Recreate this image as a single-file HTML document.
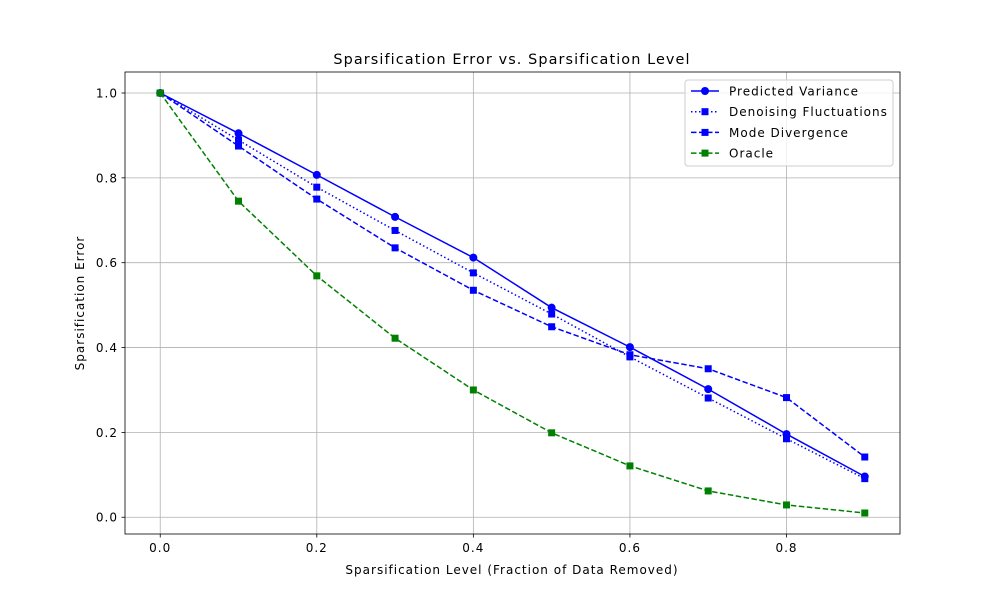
<!DOCTYPE html>
<html><head><meta charset="utf-8"><style>
body{margin:0;background:#fff;font-family:"Liberation Sans","DejaVu Sans",sans-serif}
svg text{font-family:"DejaVu Sans","Liberation Sans",sans-serif;letter-spacing:1px}
</style></head><body>
<svg id="chart" width="1000" height="600">
<rect width="1000" height="600" fill="#fff"/>
<text x="512" y="64" font-size="14.4" text-anchor="middle" style="letter-spacing:1.1px">Sparsification Error vs. Sparsification Level</text>
<g id="grid"></g><g id="series"></g><g id="axes"></g>
<text x="512" y="574" font-size="12" text-anchor="middle">Sparsification Level (Fraction of Data Removed)</text>
<text x="0" y="0" font-size="12" text-anchor="middle" transform="translate(84,303) rotate(-90)">Sparsification Error</text>
<g id="legend"></g>
</svg>
<script>
const xLevels=[0,0.1,0.2,0.3,0.4,0.5,0.6,0.7,0.8,0.9];
const predicted=[1.0,0.905,0.807,0.708,0.612,0.494,0.401,0.302,0.196,0.096];
const denoising=[1.0,0.889,0.778,0.676,0.576,0.479,0.378,0.281,0.185,0.091];
const mode=[1.0,0.875,0.750,0.635,0.535,0.449,0.383,0.350,0.282,0.142];
const oracle=[1.0,0.745,0.569,0.422,0.300,0.199,0.121,0.062,0.029,0.010];
const xTicks=[0,0.2,0.4,0.6,0.8];
const yTicks=[0,0.2,0.4,0.6,0.8,1.0];
const L=125,R=900,T=72,B=534,xmin=-0.045,xmax=0.945,ymin=-0.0395,ymax=1.0495;
const sx=v=>L+(v-xmin)/(xmax-xmin)*(R-L);
const sy=v=>B-(v-ymin)/(ymax-ymin)*(B-T);
const NS="http://www.w3.org/2000/svg";
function mk(tag,attrs,parent){const e=document.createElementNS(NS,tag);for(const k in attrs)e.setAttribute(k,attrs[k]);parent.appendChild(e);return e;}
const grid=document.getElementById('grid'),axes=document.getElementById('axes'),ser=document.getElementById('series'),leg=document.getElementById('legend');
xTicks.forEach(t=>{const x=sx(t);
 let g=mk('line',{x1:x,x2:x,y1:T,y2:B,stroke:'#b0b0b0','stroke-width':0.8},grid);
 
 mk('line',{x1:x,x2:x,y1:B,y2:B+3.5,stroke:'#000','stroke-width':0.8},axes);
 let tx=mk('text',{x:x,y:B+18,'font-size':12,'text-anchor':'middle'},axes);tx.textContent=t.toFixed(1);
 });
yTicks.forEach(t=>{const y=sy(t);
 let g=mk('line',{x1:L,x2:R,y1:y,y2:y,stroke:'#b0b0b0','stroke-width':0.8},grid);
 
 mk('line',{x1:L-3.5,x2:L,y1:y,y2:y,stroke:'#000','stroke-width':0.8},axes);
 let tx=mk('text',{x:L-7,y:y+4.5,'font-size':12,'text-anchor':'end'},axes);tx.textContent=t.toFixed(1);
 });
let fr=mk('rect',{x:L,y:T,width:R-L,height:B-T,fill:'none',stroke:'#000','stroke-width':0.8},axes);

const series=[
 {name:'Predicted Variance',vals:predicted,color:'blue',dash:'',marker:'circle',id:'predicted-variance'},
 {name:'Denoising Fluctuations',vals:denoising,color:'blue',dash:'1.5,2.5',marker:'square',id:'denoising-fluctuations'},
 {name:'Mode Divergence',vals:mode,color:'blue',dash:'5.5,2.5',marker:'square',id:'mode-divergence'},
 {name:'Oracle',vals:oracle,color:'green',dash:'5.5,2.5',marker:'square',id:'oracle'}];
function marker(s,x,y,p){if(s.marker==='circle')return mk('circle',{cx:x,cy:y,r:4,fill:s.color},p);return mk('rect',{x:x-3.5,y:y-3.5,width:7,height:7,fill:s.color},p);}
series.forEach(s=>{const g=mk('g',{},ser);
 
 const pts=s.vals.map((v,i)=>sx(xLevels[i])+','+sy(v)).join(' ');
 const pl=mk('polyline',{points:pts,fill:'none',stroke:s.color,'stroke-width':1.5,'stroke-dasharray':s.dash},g);
 
 s.vals.forEach((v,i)=>{const m=marker(s,sx(xLevels[i]),sy(v),g);
  });});
let lb=mk('rect',{x:685,y:80,width:208,height:86,rx:3,fill:'#fff','fill-opacity':0.8,stroke:'#ccc','stroke-width':1},leg);

series.forEach((s,i)=>{const y=91+i*20.7;const g=mk('g',{},leg);
 
 mk('line',{x1:691,x2:719,y1:y,y2:y,stroke:s.color,'stroke-width':1.5,'stroke-dasharray':s.dash},g);
 marker(s,705,y,g);
 const t=mk('text',{x:729,y:y+4.5,'font-size':12},g);t.textContent=s.name;});
</script>
</body></html>
